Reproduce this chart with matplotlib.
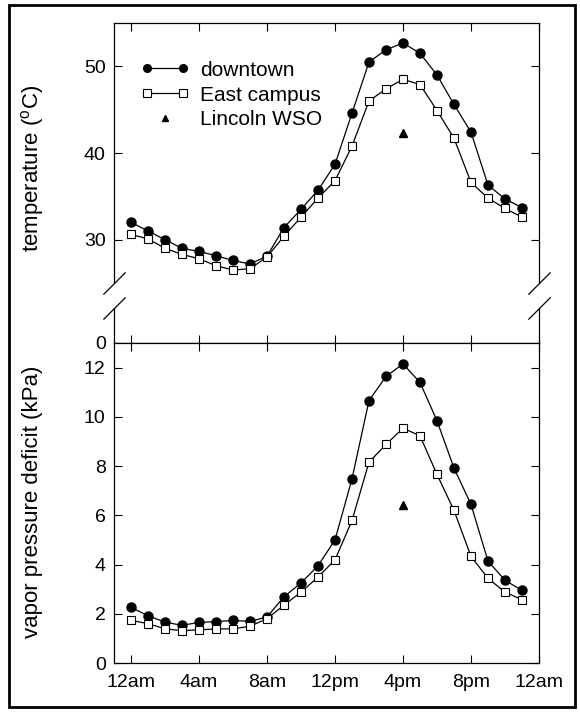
import matplotlib
matplotlib.use('Agg')
import matplotlib.pyplot as plt
from matplotlib.patches import Rectangle
from matplotlib.legend_handler import HandlerLine2D

plt.rcParams['font.family'] = ['Liberation Sans', 'DejaVu Sans']
plt.rcParams['mathtext.default'] = 'regular'

# hourly values, 12am .. 11pm
hours = list(range(24))
temp_downtown = [32.0, 31.0, 30.0, 29.0, 28.65, 28.15, 27.6, 27.2, 28.1, 31.4, 33.5, 35.7,
                 38.7, 44.6, 50.5, 51.9, 52.7, 51.5, 49.0, 45.6, 42.4, 36.3, 34.7, 33.7]
temp_east = [30.6, 30.1, 29.0, 28.3, 27.8, 27.0, 26.5, 26.65, 28.0, 30.4, 32.6, 34.8,
             36.8, 40.8, 46.0, 47.4, 48.5, 47.9, 44.9, 41.7, 36.6, 34.8, 33.6, 32.6]
vpd_downtown = [2.26, 1.92, 1.66, 1.53, 1.65, 1.68, 1.73, 1.69, 1.87, 2.69, 3.25, 3.95,
                5.0, 7.48, 10.66, 11.64, 12.15, 11.4, 9.84, 7.92, 6.44, 4.14, 3.36, 2.95]
vpd_east = [1.73, 1.6, 1.39, 1.31, 1.35, 1.38, 1.39, 1.49, 1.80, 2.35, 2.88, 3.49,
            4.19, 5.79, 8.16, 8.88, 9.54, 9.23, 7.66, 6.2, 4.33, 3.44, 2.88, 2.57]
wso_hour = [16]
temp_wso = [42.3]
vpd_wso = [6.4]

xtick_hours = [0, 4, 8, 12, 16, 20, 24]
xtick_labels = ['12am', '4am', '8am', '12pm', '4pm', '8pm', '12am']

W, H = 580, 712
fig = plt.figure(figsize=(W / 100, H / 100), dpi=100)

def box(x0, x1, ytop, ybot):
    # pixel box -> figure fraction rect
    return [x0 / W, 1 - ybot / H, (x1 - x0) / W, (ybot - ytop) / H]

ax_top = fig.add_axes(box(114, 539, 23, 283))
ax_mid = fig.add_axes(box(114, 539, 308, 343))
ax_bot = fig.add_axes(box(114, 539, 343, 663))

line_kw = dict(color='black', lw=0.9)
circ_kw = dict(marker='o', ms=6.5, mfc='black', mec='black')
sq_kw = dict(marker='s', ms=6, mfc='white', mec='black', mew=0.8)
tri_kw = dict(marker='^', ms=5.5, color='black', ls='none')

ax_top.plot(hours, temp_downtown, label='downtown', **line_kw, **circ_kw)
ax_top.plot(hours, temp_east, label='East campus', **line_kw, **sq_kw)
ax_top.plot(wso_hour, temp_wso, label='Lincoln WSO', **tri_kw)

ax_bot.plot(hours, vpd_downtown, **line_kw, **circ_kw)
ax_bot.plot(hours, vpd_east, **line_kw, **sq_kw)
ax_bot.plot(wso_hour, vpd_wso, **tri_kw)

for ax in (ax_top, ax_mid, ax_bot):
    ax.set_xlim(-1, 24)
    ax.set_xticks(xtick_hours)
    for sp in ax.spines.values():
        sp.set_linewidth(0.9)
    ax.tick_params(direction='in', length=6, width=0.8, labelsize=14, pad=6,
                   top=True, right=True)

ax_top.set_ylim(25, 55)
ax_top.set_yticks([30, 40, 50])
ax_top.spines['bottom'].set_visible(False)
ax_top.tick_params(bottom=False, labelbottom=False)

ax_mid.set_ylim(0, 4)
ax_mid.set_yticks([0])
ax_mid.spines['top'].set_visible(False)
ax_mid.tick_params(top=False, labelbottom=False, right=False)

ax_bot.set_ylim(0, 13)
ax_bot.set_yticks(range(0, 13, 2))
ax_bot.set_xticklabels(xtick_labels)
ax_bot.tick_params(axis='x', pad=8)

# break marks on both spines
brk = dict(marker=[(-1, -1), (1, 1)], markersize=16, linestyle='none',
           color='black', mec='black', mew=0.9, clip_on=False)
ax_top.plot([0, 1], [0, 0], transform=ax_top.transAxes, **brk)
ax_mid.plot([0, 1], [1, 1], transform=ax_mid.transAxes, **brk)

leg = ax_top.legend(loc='upper left', bbox_to_anchor=(0.063, 0.855), frameon=False,
                    fontsize=15, borderpad=0, borderaxespad=0, handlelength=2.33,
                    handletextpad=0.52, labelspacing=0.28, numpoints=2, markerscale=0.85,
                    handler_map={ax_top.lines[2]: HandlerLine2D(numpoints=1)})

fig.text(33 / W, 1 - 168 / H, 'temperature ($^{o}$C)', rotation=90, fontsize=16,
         ha='center', va='center')
fig.text(33 / W, 1 - 502 / H, 'vapor pressure deficit (kPa)', rotation=90, fontsize=16,
         ha='center', va='center')

fig.add_artist(Rectangle((9 / W, 1 - 707 / H), 566 / W, 702 / H, transform=fig.transFigure,
                         fill=False, lw=2, ec='black'))

fig.savefig('out.png', dpi=100)
